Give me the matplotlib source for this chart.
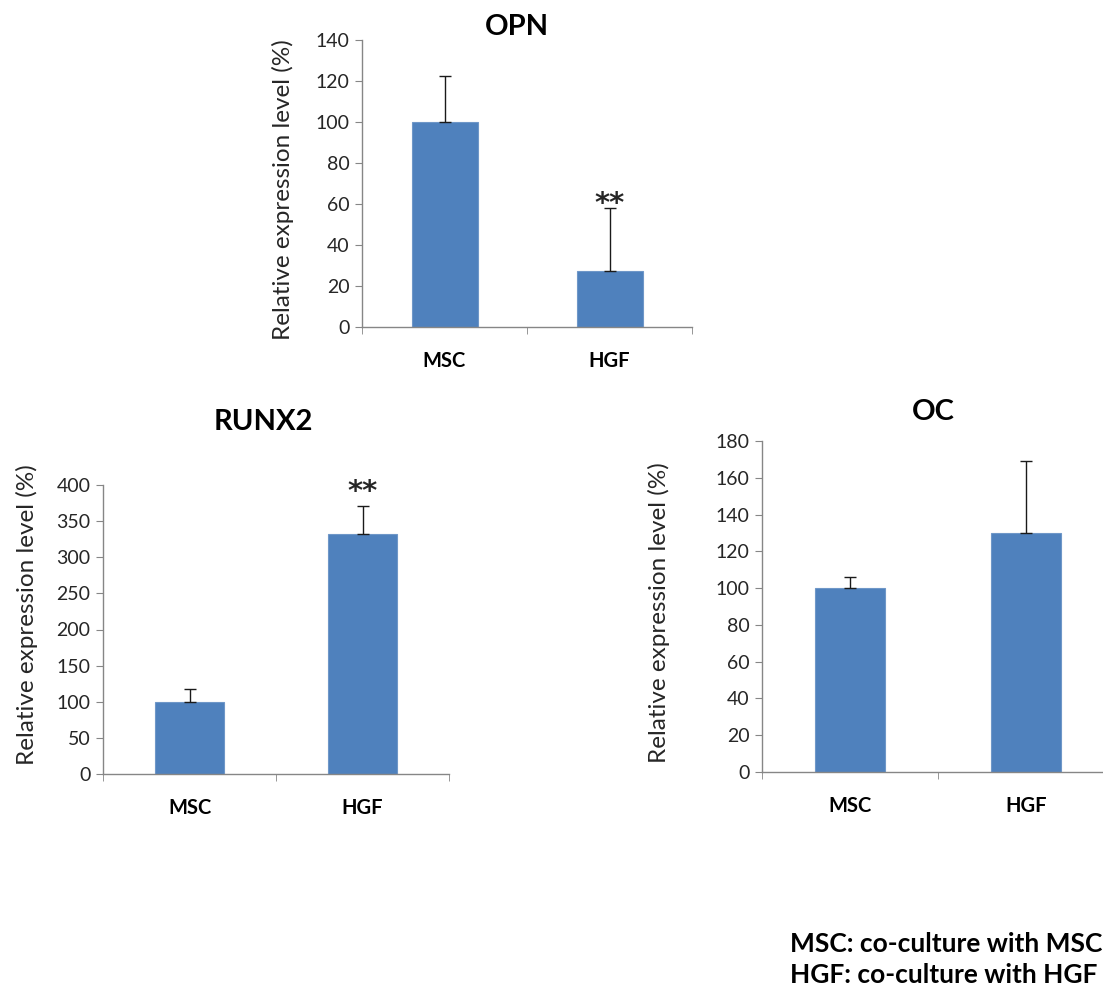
import matplotlib.pyplot as plt

plt.rcParams['font.family'] = ['Lato', 'DejaVu Sans']

groups = ["MSC", "HGF"]

opn_vals = [100, 27.5]
opn_err = [22.5, 30.5]
runx2_vals = [100, 332]
runx2_err = [17.5, 39.5]
oc_vals = [100, 130]
oc_err = [6, 39]

BAR = "#4F81BD"
AXC = "#868686"
TXT = "#262626"

W, H = 1103, 989
fig = plt.figure(figsize=(W / 100, H / 100), dpi=100)


def px_axes(x0, x1, y_top, y_bot):
    return fig.add_axes([x0 / W, 1 - y_bot / H, (x1 - x0) / W, (y_bot - y_top) / H])


def panel(ax, vals, err, ymax, step, stars_y=None):
    x = range(len(groups))
    ax.bar(x, vals, width=0.4, color=BAR, edgecolor="#6f97c8", linewidth=0.8, zorder=2)
    ax.errorbar(x, vals, yerr=[[0] * len(err), err], fmt="none", ecolor="#1a1a1a",
                elinewidth=1, capsize=4, capthick=1, zorder=3)
    ax.set_xlim(-0.5, len(groups) - 0.5)
    ax.set_ylim(0, ymax)
    ax.set_yticks(range(0, ymax + 1, step))
    ax.set_xticks(list(x))
    ax.set_xticklabels(groups, fontsize=14.5, fontweight="bold", color="black")
    ax.set_xticks([i - 0.5 for i in range(len(groups) + 1)], minor=True)
    ax.tick_params(axis="x", which="major", length=0, pad=17)
    ax.tick_params(axis="x", which="minor", length=5, color=AXC, direction="out")
    ax.tick_params(axis="y", length=5, color=AXC, labelsize=14, labelcolor=TXT, pad=4)
    for s in ("top", "right"):
        ax.spines[s].set_visible(False)
    for s in ("left", "bottom"):
        ax.spines[s].set_color(AXC)
        ax.spines[s].set_linewidth(1)
    if stars_y is not None:
        ax.text(1, stars_y, "**", ha="center", va="center", fontsize=21,
                family="DejaVu Sans", fontweight="bold", color=TXT)


# OPN
ax1 = px_axes(362, 692, 40, 327)
panel(ax1, opn_vals, opn_err, 140, 20, stars_y=60)
fig.text(517 / W, 1 - 27 / H, "OPN", ha="center", va="center", fontsize=21, fontweight="bold")
fig.text(283 / W, 1 - 190 / H, "Relative expression level (%)", rotation=90,
         ha="center", va="center", fontsize=17.5, color=TXT)

# RUNX2
ax2 = px_axes(103, 449, 485, 774)
panel(ax2, runx2_vals, runx2_err, 400, 50, stars_y=390)
fig.text(263 / W, 1 - 422 / H, "RUNX2", ha="center", va="center", fontsize=21, fontweight="bold")
fig.text(27 / W, 1 - 615 / H, "Relative expression level (%)", rotation=90,
         ha="center", va="center", fontsize=17.5, color=TXT)

# OC
ax3 = px_axes(762, 1114, 441, 772)
panel(ax3, oc_vals, oc_err, 180, 20)
fig.text(933 / W, 1 - 412 / H, "OC", ha="center", va="center", fontsize=21, fontweight="bold")
fig.text(659 / W, 1 - 613 / H, "Relative expression level (%)", rotation=90,
         ha="center", va="center", fontsize=17.5, color=TXT)

# footnote
fig.text(790 / W, 1 - 944 / H, "MSC: co-culture with MSC", ha="left", va="center",
         fontsize=19, fontweight="bold")
fig.text(790 / W, 1 - 975 / H, "HGF: co-culture with HGF", ha="left", va="center",
         fontsize=19, fontweight="bold")

fig.savefig("out.png", dpi=100)
